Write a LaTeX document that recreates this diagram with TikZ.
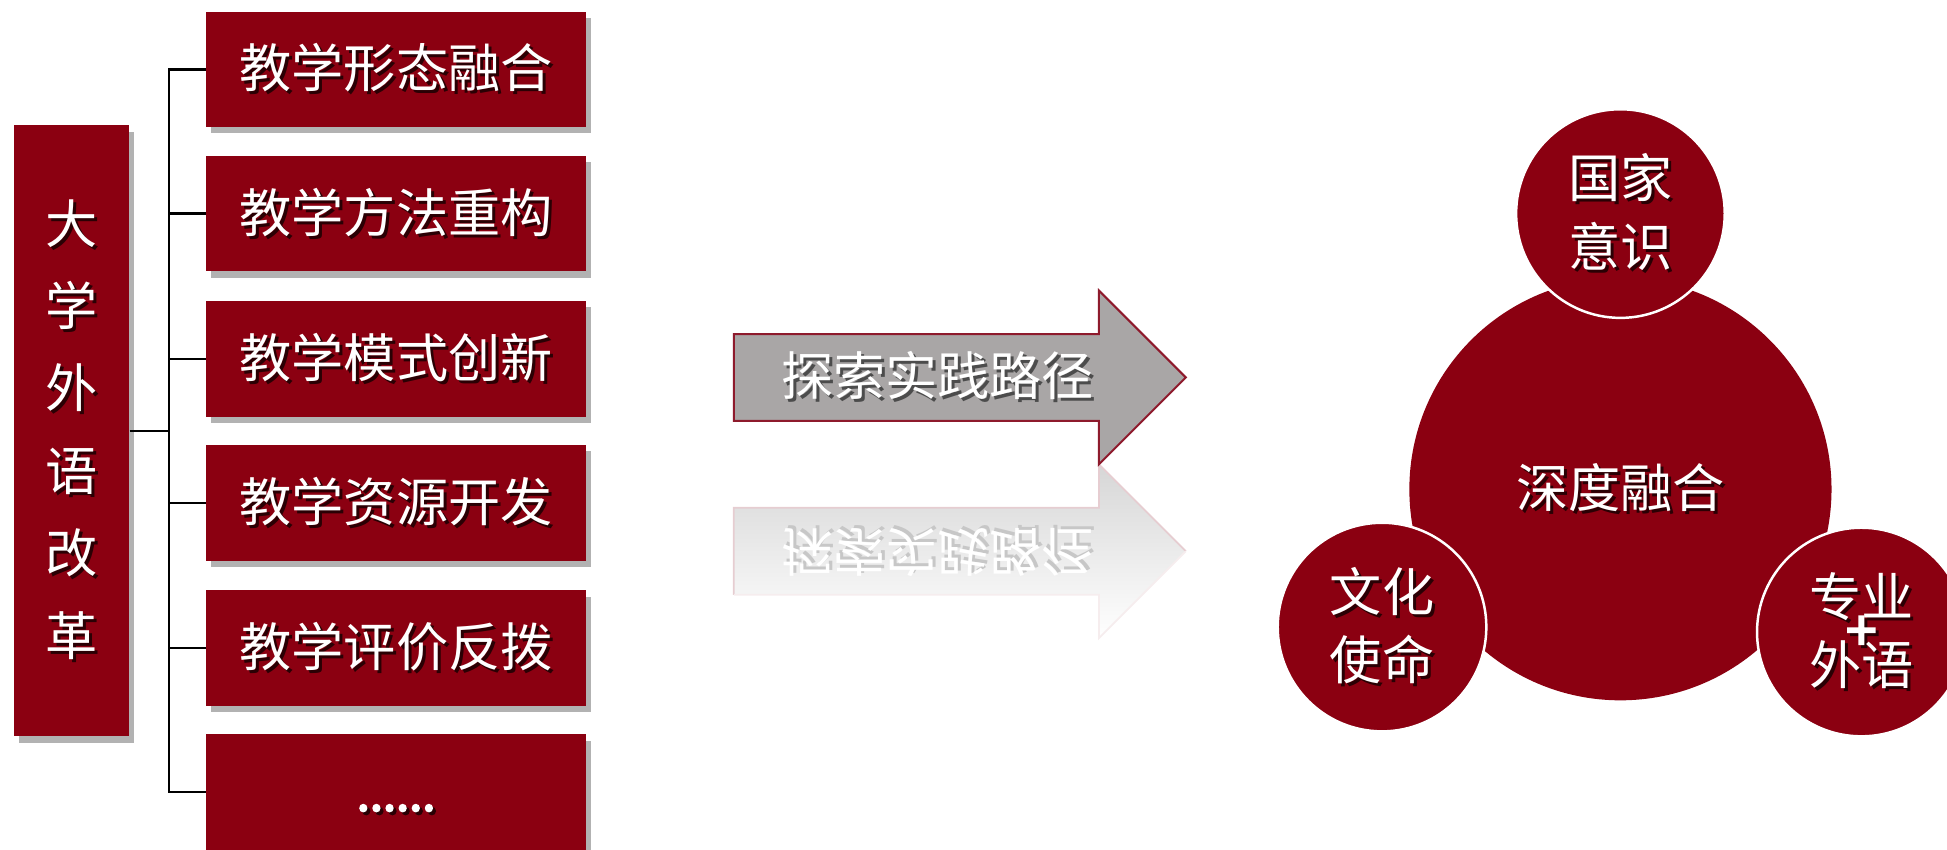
\documentclass[tikz,border=0pt]{standalone}
\usepackage{fontspec}
\newfontfamily\cjk{Noto Sans CJK SC}
\newfontfamily\cjkb[FakeBold=4]{Noto Sans CJK SC}
\usetikzlibrary{shadows}
\definecolor{myred}{HTML}{8B0011}
\definecolor{arrgray}{HTML}{A9A6A6}
\definecolor{arredge}{HTML}{8E1A2C}
\definecolor{shcol}{HTML}{2A0004}
\newcommand\shtx[2][shcol]{\rlap{\kern1.2pt\raisebox{-1.2pt}{\textcolor{#1}{#2}}}#2}
\newcommand\plusstack{\vbox{\baselineskip=13.6pt\lineskiplimit=-100pt\lineskip=0pt\relax
  \halign{\hfil##\hfil\cr \shtx{专业}\cr {\cjkb\fontsize{22}{13.6}\selectfont\shtx{+}}\cr \shtx{外语}\cr}}}
\begin{document}
\begin{tikzpicture}[x=0.5pt,y=-0.5pt,
  lblfont/.style={font=\cjk\fontsize{21}{27.5}\selectfont},
  redbox/.style={fill=myred, inner sep=0pt, text=white, lblfont,
    drop shadow={shadow xshift=2pt, shadow yshift=-2.5pt, opacity=0.3, fill=black}},
  itembox/.style={redbox, minimum width=153pt, minimum height=46.5pt},
  conn/.style={draw=black, line width=0.9pt},
  circ/.style={circle, fill=myred, inner sep=0pt, text=white, lblfont, align=center},
  smallcirc/.style={circ, minimum size=84pt, draw=white, line width=1pt},
  arrowsty/.style={fill=arrgray, draw=arredge, line width=0.8pt, line join=miter},
  reflsty/.style={top color=black!16, bottom color=white, draw=none},
]
\useasboundingbox (0,0) rectangle (1568,684);

% left tall box
\node[redbox, minimum width=46.5pt, minimum height=246pt, align=center,
      font=\cjk\fontsize{21}{33.2}\selectfont] (tall) at (57.5,347)
  {\shtx{大}\\\shtx{学}\\\shtx{外}\\\shtx{语}\\\shtx{改}\\\shtx{革}};

% item boxes
\node[itembox] (b1) at (319,56)  {\shtx{教学形态融合}};
\node[itembox] (b2) at (319,172) {\shtx{教学方法重构}};
\node[itembox] (b3) at (319,289) {\shtx{教学模式创新}};
\node[itembox] (b4) at (319,405) {\shtx{教学资源开发}};
\node[itembox] (b5) at (319,522) {\shtx{教学评价反拨}};
\node[itembox] (b6) at (319,638) {};
\node[text=white, font=\cjkb\fontsize{19}{22}\selectfont, inner sep=1pt] (dots) at (319,652) {\shtx{......}};

% connectors
\coordinate (j) at (136,347);
\draw[conn] (tall.east) -- (j);
\draw[conn] (b1.west) -- (b1.west -| j) -- (b6.west -| j) -- (b6.west);
\draw[conn] (b2.west) -- (b2.west -| j);
\draw[conn] (b3.west) -- (b3.west -| j);
\draw[conn] (b4.west) -- (b4.west -| j);
\draw[conn] (b5.west) -- (b5.west -| j);

% reflection of arrow
\path[reflsty] (591,409) -- (885,409) -- (885,374) -- (955,444) -- (885,514) -- (885,479) -- (591,479) -- cycle;
\draw[draw=arredge!22, line width=0.7pt] (591,479) -- (591,409) -- (885,409) -- (885,374) -- (955,444);
\draw[draw=arredge!8, line width=0.7pt] (955,444) -- (885,514) -- (885,479) -- (591,479);
\node[text=white, lblfont] (refltext) at (755,444)
  {\scalebox{1}[-1]{\shtx[black!22]{探索实践路径}}};

% arrow
\draw[arrowsty] (591,269) -- (885,269) -- (885,234) -- (955,304) -- (885,374) -- (885,339) -- (591,339) -- cycle;
\node[text=white, lblfont] (arrtext) at (755,304) {\shtx[black!70]{探索实践路径}};

% circles
\node[circ, minimum size=170pt] (big) at (1305,394) {\shtx{深度融合}};
\node[smallcirc] (top) at (1305,172) {\shtx{国家}\\\shtx{意识}};
\node[smallcirc] (bl) at (1113,505) {\shtx{文化}\\\shtx{使命}};
\node[smallcirc] (br) at (1499,509) {\plusstack};
\end{tikzpicture}
\end{document}
